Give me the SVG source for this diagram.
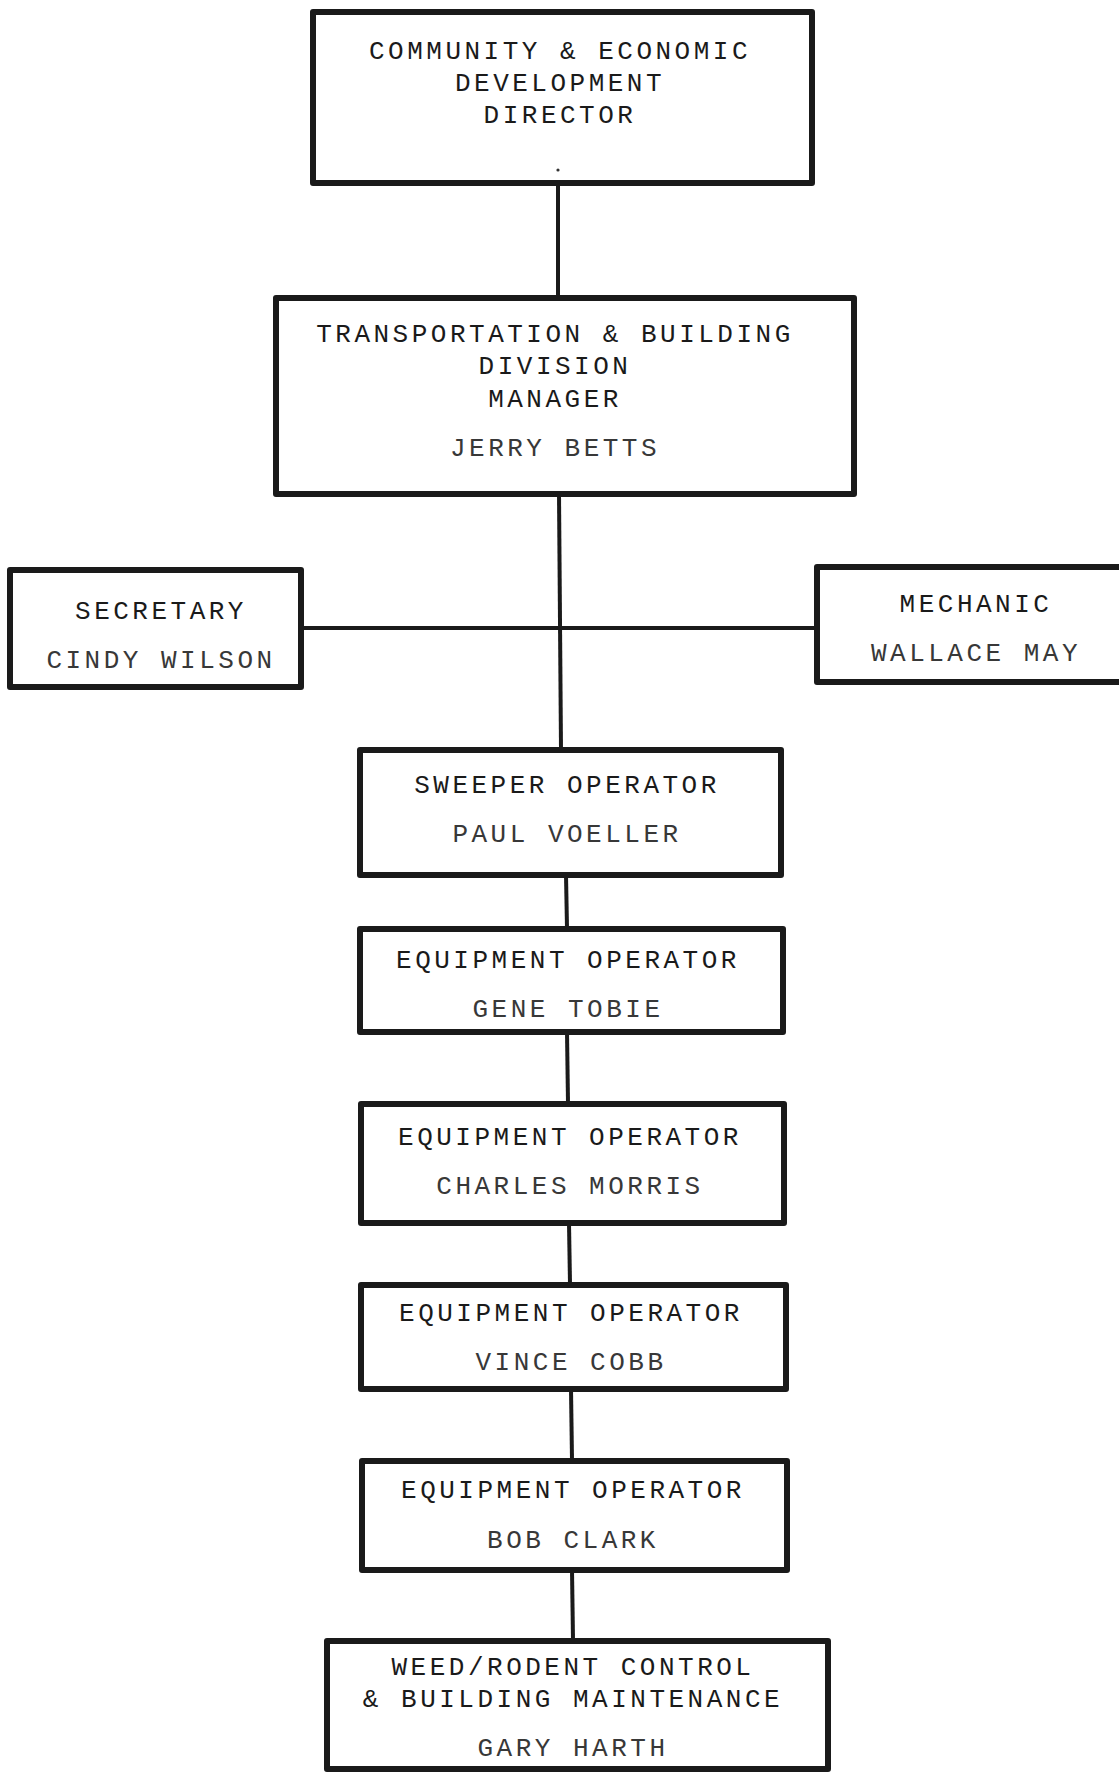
<svg xmlns="http://www.w3.org/2000/svg" width="1119" height="1775" viewBox="0 0 1119 1775">
<style>
.box{fill:none;stroke:#1a1a1a;stroke-width:6;stroke-linejoin:round}
.t{font-family:"Liberation Mono","Courier New",monospace;font-size:26px;letter-spacing:3.5px;text-anchor:middle;fill:#1a1a1a}
.n{fill:#383838}
.c{stroke:#1a1a1a;stroke-width:4;fill:none}
</style>
<rect width="1119" height="1775" fill="#ffffff"/>
<g id="connectors">
<line class="c" x1="558" y1="183" x2="558" y2="298"/>
<line class="c" x1="559" y1="494" x2="561" y2="749" stroke-width="3"/>
<line class="c" x1="301" y1="628" x2="817" y2="628"/>
<line class="c" x1="566" y1="875" x2="567" y2="928"/>
<line class="c" x1="567" y1="1032" x2="568" y2="1103"/>
<line class="c" x1="569" y1="1223" x2="570" y2="1284"/>
<line class="c" x1="571" y1="1389" x2="572" y2="1460"/>
<line class="c" x1="572" y1="1570" x2="573" y2="1640"/>
</g>
<g id="director">
<rect class="box" x="313" y="12" width="499" height="171"/>
<text class="t" x="560" y="59">COMMUNITY &amp; ECONOMIC</text>
<text class="t" x="560" y="91">DEVELOPMENT</text>
<text class="t" x="560" y="123">DIRECTOR</text>
<circle cx="558" cy="170" r="1.6" fill="#333"/>
</g>
<g id="manager">
<rect class="box" x="276" y="298" width="578" height="196"/>
<text class="t" x="555" y="342">TRANSPORTATION &amp; BUILDING</text>
<text class="t" x="555" y="374">DIVISION</text>
<text class="t" x="555" y="407">MANAGER</text>
<text class="t n" x="555" y="456">JERRY BETTS</text>
</g>
<g id="secretary">
<rect class="box" x="10" y="570" width="291" height="117"/>
<text class="t" x="161" y="619">SECRETARY</text>
<text class="t n" x="161" y="668">CINDY WILSON</text>
</g>
<g id="mechanic">
<rect class="box" x="817" y="567" width="320" height="115"/>
<text class="t" x="976" y="612">MECHANIC</text>
<text class="t n" x="976" y="661">WALLACE MAY</text>
</g>
<g id="sweeper">
<rect class="box" x="360" y="750" width="421" height="125"/>
<text class="t" x="567" y="793">SWEEPER OPERATOR</text>
<text class="t n" x="567" y="842">PAUL VOELLER</text>
</g>
<g id="equip1">
<rect class="box" x="360" y="929" width="423" height="103"/>
<text class="t" x="568" y="968">EQUIPMENT OPERATOR</text>
<text class="t n" x="568" y="1017">GENE TOBIE</text>
</g>
<g id="equip2">
<rect class="box" x="361" y="1104" width="423" height="119"/>
<text class="t" x="570" y="1145">EQUIPMENT OPERATOR</text>
<text class="t n" x="570" y="1194">CHARLES MORRIS</text>
</g>
<g id="equip3">
<rect class="box" x="361" y="1285" width="425" height="104"/>
<text class="t" x="571" y="1321">EQUIPMENT OPERATOR</text>
<text class="t n" x="571" y="1370">VINCE COBB</text>
</g>
<g id="equip4">
<rect class="box" x="362" y="1461" width="425" height="109"/>
<text class="t" x="573" y="1498">EQUIPMENT OPERATOR</text>
<text class="t n" x="573" y="1548">BOB CLARK</text>
</g>
<g id="weed">
<rect class="box" x="327" y="1641" width="501" height="128"/>
<text class="t" x="573" y="1675">WEED/RODENT CONTROL</text>
<text class="t" x="573" y="1707">&amp; BUILDING MAINTENANCE</text>
<text class="t n" x="573" y="1756">GARY HARTH</text>
</g>
</svg>
